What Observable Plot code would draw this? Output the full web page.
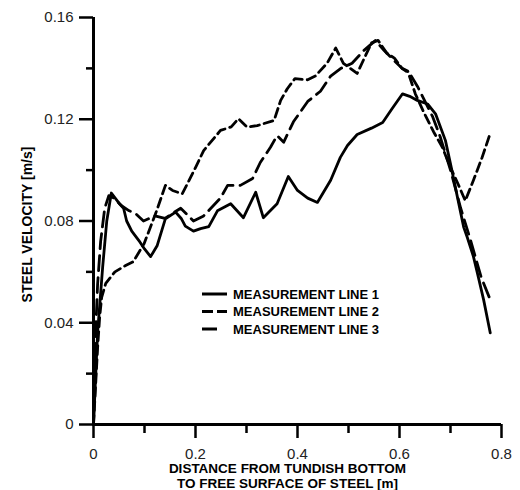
<!DOCTYPE html>
<html><head><meta charset="utf-8">
<script src="https://cdn.jsdelivr.net/npm/d3@7"></script>
<script src="https://cdn.jsdelivr.net/npm/@observablehq/plot@0.6"></script>
<style>body{margin:0;background:#fff;} #chart{width:520px;height:490px;}</style>
</head><body><div id="chart"></div>
<script>
// Measurement line 1 (solid)
const line1X = [0, 0.008, 0.018, 0.026, 0.035, 0.05, 0.059, 0.065, 0.075, 0.089, 0.1, 0.112, 0.125, 0.141, 0.161, 0.172, 0.18, 0.196, 0.21, 0.226, 0.243, 0.269, 0.294, 0.318, 0.333, 0.36, 0.382, 0.4, 0.42, 0.439, 0.465, 0.484, 0.498, 0.517, 0.545, 0.567, 0.585, 0.606, 0.62, 0.635, 0.655, 0.671, 0.69, 0.7, 0.714, 0.726, 0.733, 0.745, 0.753, 0.765, 0.778];
const line1Y = [0, 0.036, 0.062, 0.08, 0.091, 0.087, 0.085, 0.080, 0.076, 0.0723, 0.069, 0.066, 0.0704, 0.0809, 0.0835, 0.081, 0.078, 0.076, 0.077, 0.0778, 0.084, 0.0868, 0.0813, 0.0913, 0.0813, 0.0868, 0.0975, 0.092, 0.089, 0.0873, 0.096, 0.105, 0.1097, 0.114, 0.1165, 0.1187, 0.124, 0.130, 0.129, 0.1274, 0.126, 0.122, 0.1117, 0.1025, 0.089, 0.0775, 0.0735, 0.066, 0.0593, 0.049, 0.036];
// Measurement line 2 (short dash)
const line2X = [0, 0.004, 0.008, 0.012, 0.016, 0.024, 0.042, 0.063, 0.078, 0.099, 0.122, 0.141, 0.155, 0.174, 0.184, 0.2, 0.216, 0.249, 0.27, 0.284, 0.301, 0.321, 0.354, 0.367, 0.38, 0.395, 0.42, 0.435, 0.458, 0.475, 0.49, 0.517, 0.545, 0.558, 0.575, 0.59, 0.605, 0.616, 0.631, 0.647, 0.667, 0.684, 0.7, 0.716, 0.729, 0.745, 0.762, 0.778];
const line2Y = [0, 0.015, 0.03, 0.042, 0.05, 0.0555, 0.06, 0.0625, 0.064, 0.071, 0.083, 0.094, 0.092, 0.0907, 0.0946, 0.101, 0.1077, 0.1156, 0.117, 0.1202, 0.1169, 0.1175, 0.1195, 0.1274, 0.132, 0.136, 0.1355, 0.137, 0.142, 0.148, 0.142, 0.138, 0.150, 0.151, 0.146, 0.144, 0.14, 0.139, 0.130, 0.123, 0.115, 0.109, 0.101, 0.094, 0.088, 0.096, 0.105, 0.1145];
// Measurement line 3 (long dash)
const line3X = [0, 0.003, 0.008, 0.014, 0.022, 0.03, 0.04, 0.055, 0.07, 0.082, 0.098, 0.12, 0.14, 0.155, 0.171, 0.196, 0.216, 0.249, 0.263, 0.288, 0.312, 0.327, 0.347, 0.36, 0.373, 0.392, 0.42, 0.445, 0.465, 0.485, 0.507, 0.53, 0.553, 0.57, 0.59, 0.605, 0.62, 0.635, 0.65, 0.665, 0.68, 0.7, 0.72, 0.74, 0.76, 0.78];
const line3Y = [0, 0.03, 0.055, 0.072, 0.085, 0.09, 0.089, 0.086, 0.084, 0.083, 0.080, 0.082, 0.081, 0.083, 0.085, 0.080, 0.082, 0.089, 0.094, 0.094, 0.0967, 0.103, 0.109, 0.1136, 0.111, 0.119, 0.127, 0.131, 0.137, 0.14, 0.142, 0.147, 0.151, 0.147, 0.143, 0.14, 0.138, 0.133, 0.127, 0.121, 0.113, 0.100, 0.085, 0.072, 0.058, 0.048];

const xMajor = [0, 0.2, 0.4, 0.6, 0.8];
const xMinor = [0.1, 0.3, 0.5, 0.7];
const yMajor = [0, 0.04, 0.08, 0.12, 0.16];
const yMinor = [0.02, 0.06, 0.1, 0.14];
const xTickLabels = ["0", "0.2", "0.4", "0.6", "0.8"];
const yTickLabels = ["0", "0.04", "0.08", "0.12", "0.16"];
const xTitle = "DISTANCE FROM TUNDISH BOTTOM\nTO FREE SURFACE OF STEEL [m]";
const yTitle = "STEEL VELOCITY [m/s]";
const seriesNames = ["MEASUREMENT LINE 1", "MEASUREMENT LINE 2", "MEASUREMENT LINE 3"];

const toRows = (xs, ys) => xs.map((x, i) => ({x, y: ys[i]}));
const rows1 = toRows(line1X, line1Y);
const rows2 = toRows(line2X, line2Y);
const rows3 = toRows(line3X, line3Y);

const font = "'Liberation Sans', Arial, Helvetica, sans-serif";
const dashes = [null, "9,5", "15,7"];

const svg = Plot.plot({
  width: 520, height: 490,
  marginLeft: 93, marginRight: 19, marginTop: 17, marginBottom: 66,
  style: {fontFamily: font, background: "#fff", color: "#000"},
  x: {domain: [0, 0.8]},
  y: {domain: [0, 0.16]},
  marks: [
    Plot.axisX(xMajor, {tickSize: 14, tickPadding: 10, strokeWidth: 2.5, fontSize: 15, fill: "#222",
      tickFormat: (d) => xTickLabels[xMajor.indexOf(d)], label: null}),
    Plot.axisX(xMinor, {tickSize: 9, strokeWidth: 2.5, tickFormat: () => "", label: null}),
    Plot.axisY(yMajor, {tickSize: 14, tickPadding: 6, strokeWidth: 2.5, fontSize: 15, fill: "#222",
      tickFormat: (d) => yTickLabels[yMajor.indexOf(d)], label: null}),
    Plot.axisY(yMinor, {tickSize: 7, strokeWidth: 2.5, tickFormat: () => "", label: null}),
    Plot.ruleX([0], {strokeWidth: 3}),
    Plot.ruleY([0], {strokeWidth: 3}),
    Plot.line(rows1, {x: "x", y: "y", stroke: "#000", strokeWidth: 2.8, strokeLinejoin: "round"}),
    Plot.line(rows2, {x: "x", y: "y", stroke: "#000", strokeWidth: 2.8, strokeDasharray: dashes[1], strokeLinejoin: "round"}),
    Plot.line(rows3, {x: "x", y: "y", stroke: "#000", strokeWidth: 2.8, strokeDasharray: dashes[2], strokeLinejoin: "round"}),
    Plot.text([xTitle], {text: (d) => d, frameAnchor: "bottom", dx: -10, dy: 37, lineAnchor: "top",
      fontSize: 13.5, fontWeight: "bold", lineHeight: 1.15, fill: "#000"}),
    Plot.text([yTitle], {text: (d) => d, frameAnchor: "left", textAnchor: "middle", rotate: -90, dx: -66, dy: 3.5,
      fontSize: 14, fontWeight: "bold", fill: "#000"})
  ]
});

// Legend (inside plot area)
const lg = d3.select(svg).append("g").attr("font-family", font).attr("font-size", 13)
  .attr("font-weight", "bold").attr("text-anchor", "start");
const legendRows = [294, 311.5, 329];
const legendDash = [null, "11,4", "15,15"];
seriesNames.forEach((name, i) => {
  lg.append("line").attr("x1", 202).attr("x2", 227).attr("y1", legendRows[i]).attr("y2", legendRows[i])
    .attr("stroke", "#000").attr("stroke-width", 3).attr("stroke-dasharray", legendDash[i]);
  lg.append("text").attr("x", 233).attr("y", legendRows[i] + 4.7).attr("fill", "#000").text(name);
});

document.getElementById("chart").appendChild(svg);
</script>
</body></html>
